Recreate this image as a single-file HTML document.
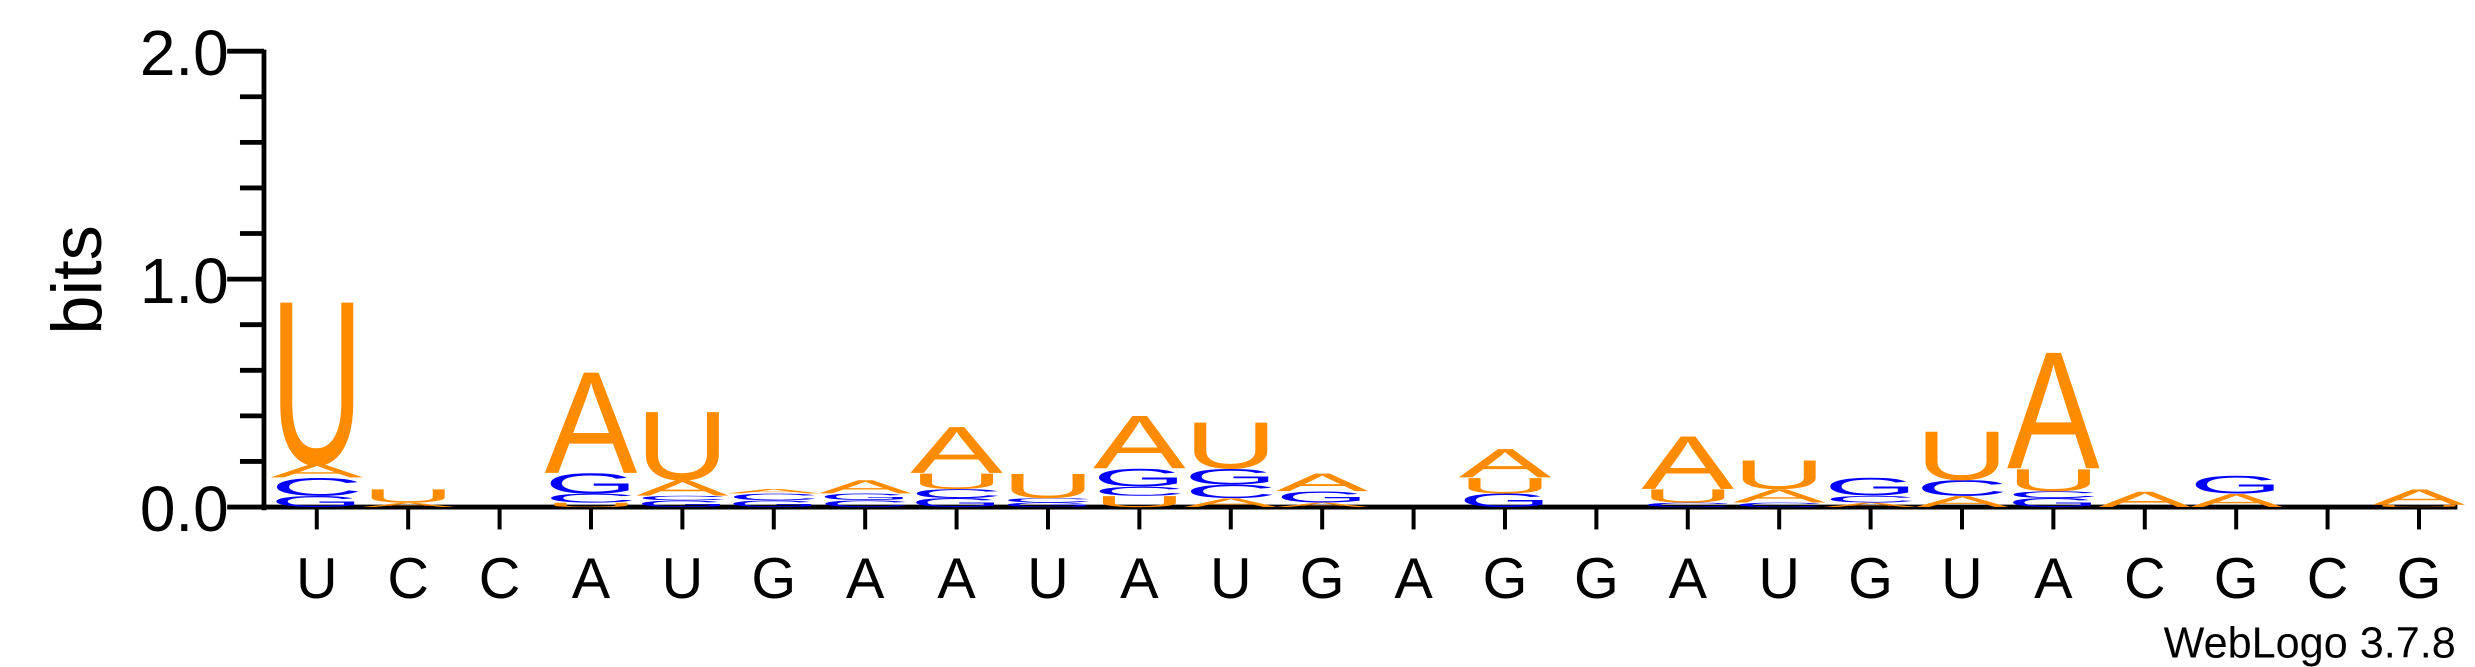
<!DOCTYPE html>
<html><head><meta charset="utf-8"><style>
html,body{margin:0;padding:0;background:#fff;}
svg{display:block;}
</style></head><body>
<svg id="logo" width="2475" height="667" viewBox="0 0 1547 417" preserveAspectRatio="none" xmlns="http://www.w3.org/2000/svg" font-family="Liberation Sans, sans-serif">
<g id="axes"></g>
<g id="stacks"></g>
<text transform="translate(63,175) rotate(-90)" text-anchor="middle" font-size="44">bits</text>
<text x="1535" y="411" text-anchor="end" font-size="27">WebLogo 3.7.8</text>
</svg>
<script>
const positions = ["U","C","C","A","U","G","A","A","U","A","U","G","A","G","G","A","U","G","U","A","C","G","C","G"];
const stackLetters = [
 ["G","C","A","U"],["A","U"],[],["U","C","G","A"],["G","C","A","U"],["G","C","A"],
 ["C","G","A"],["G","C","U","A"],["G","C","U"],["U","C","G","A"],["A","C","G","U"],["A","G","A"],
 [],["G","U","A"],[],["C","U","A"],["C","A","U"],["A","C","G"],["A","C","U"],["G","C","U","A"],
 ["A"],["A","G"],[],["U","A"]
];
const stackHeights = [
 [0.05,0.08,0.06,0.74],[0.02,0.06],[],[0.02,0.04,0.09,0.46],[0.03,0.02,0.07,0.31],[0.03,0.03,0.02],
 [0.03,0.03,0.06],[0.04,0.04,0.07,0.21],[0.02,0.02,0.11],[0.05,0.04,0.08,0.24],[0.04,0.06,0.07,0.21],[0.02,0.05,0.08],
 [],[0.06,0.07,0.13],[],[0.02,0.06,0.24],[0.02,0.06,0.13],[0.02,0.03,0.08],[0.05,0.07,0.22],[0.04,0.03,0.1,0.53],
 [0.07],[0.06,0.08],[],[0.01,0.07]
];
const yTickLabels = ["0.0","1.0","2.0"];
const yMax = 2.0;

const NS="http://www.w3.org/2000/svg";
const X0=165, Y0=317, YTOP=32, COL0=198, STEP=57.13, LW=58;
const yScale = v => Y0 - (v / yMax) * (Y0 - YTOP);
const xScale = i => COL0 + i * STEP;
const colors={A:"#FF8C00",U:"#FF8C00",C:"#0000FF",G:"#0000FF"};
const axes=document.getElementById('axes');
function mk(tag,attrs,parent){const e=document.createElementNS(NS,tag);for(const k in attrs)e.setAttribute(k,attrs[k]);parent.appendChild(e);return e;}
let l=mk('line',{x1:X0,y1:YTOP-1,x2:X0,y2:Y0+2,stroke:'#000','stroke-width':3},axes);


l=mk('line',{x1:X0-1,y1:Y0,x2:1536,y2:Y0,stroke:'#000','stroke-width':3},axes);


for(let k=0;k<=10;k++){
  const v=k*0.2, y=yScale(v), major=(k%5===0);
  const t=mk('line',{x1:major?X0-23:X0-15,y1:y,x2:X0,y2:y,stroke:'#000','stroke-width':3},axes);
  
  
}
yTickLabels.forEach(s=>{
  const t=mk('text',{x:X0-22,y:yScale(parseFloat(s))+15,'text-anchor':'end','font-size':40},axes);
  t.textContent=s;
  
  
});
positions.forEach((p,i)=>{
  const x=xScale(i);
  const t=mk('line',{x1:x,y1:Y0,x2:x,y2:Y0+14,stroke:'#000','stroke-width':2.5},axes);
  
  
  const lab=mk('text',{x:x,y:374,'text-anchor':'middle','font-size':36},axes);
  lab.textContent=p;
  
  
});
const stacks=document.getElementById('stacks');
stackLetters.forEach((letters,i)=>{
  let cum=0;
  const cx=xScale(i);
  letters.forEach((L,j)=>{
    const h=stackHeights[i][j];
    const yb=yScale(cum), yt=yScale(cum+h);
    cum+=h;
    const hp=yb-yt;
    if(hp<=0)return;
    const g=mk('g',{transform:`translate(${cx-LW/2},${yb}) scale(1,${hp/72})`},stacks);
    const t=mk('text',{x:0,y:0,'font-size':100,fill:colors[L],textLength:LW,lengthAdjust:'spacingAndGlyphs'},g);
    t.textContent=L;
    
    
  });
});
</script>
</body></html>
